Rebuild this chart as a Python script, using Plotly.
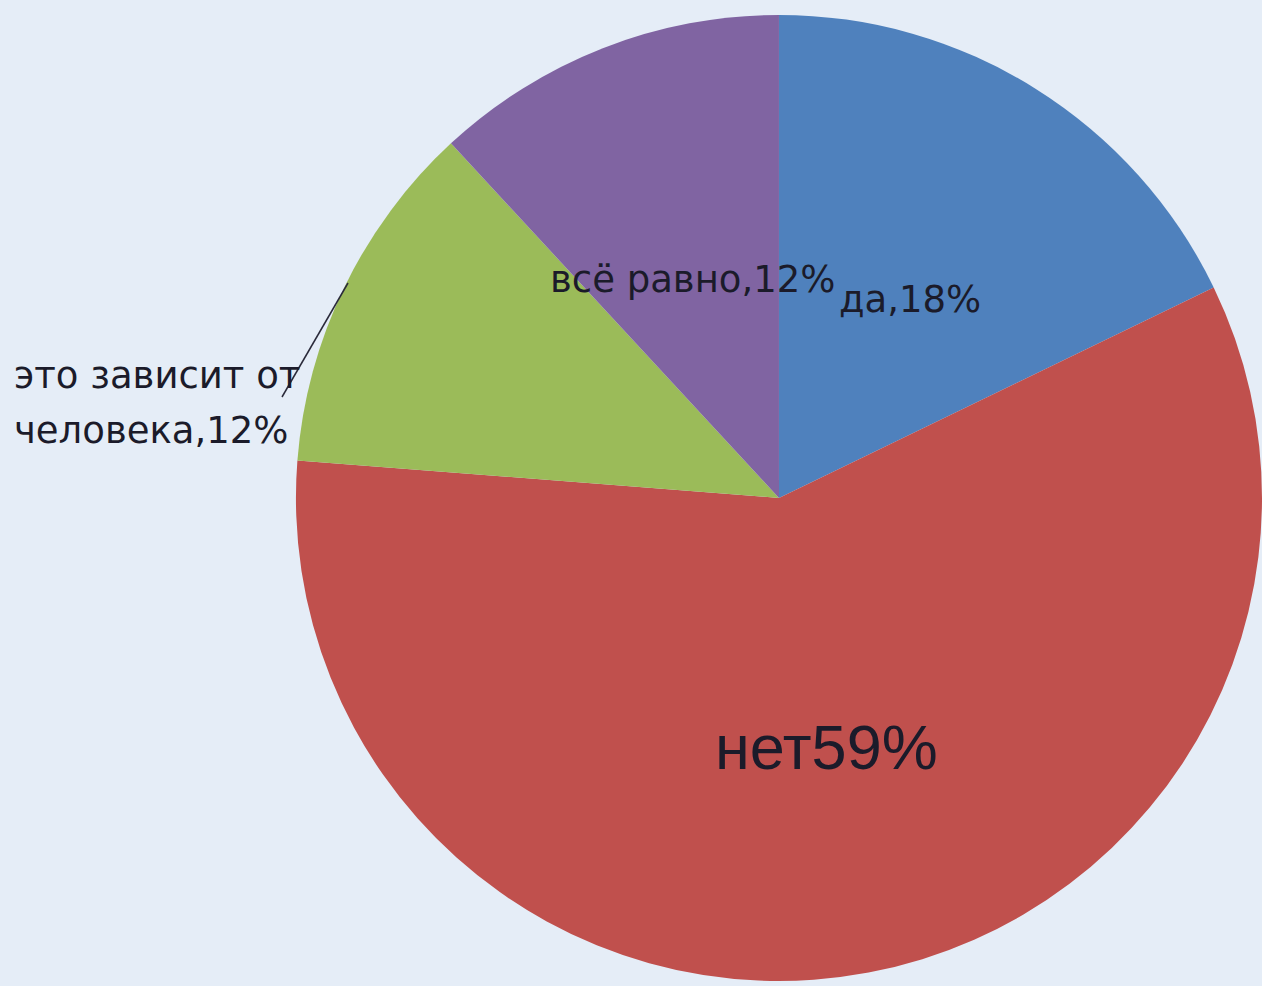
import plotly.graph_objects as go

labels = ["да", "нет", "это зависит от человека", "всё равно"]
values = [18, 59, 12, 12]
colors = ["#4f81bd", "#c0504d", "#9bbb59", "#8064a2"]
label_lines_green = ["это зависит от", "человека,12%"]
label_texts = ["да,18%", "нет59%", "всё равно,12%"]

W, H = 1262, 986

def px(x, y):
    return x / W, 1 - y / H

fig = go.Figure(go.Pie(
    labels=labels,
    values=values,
    sort=False,
    direction="clockwise",
    rotation=0,
    marker=dict(colors=colors, line=dict(width=0)),
    textinfo="none",
    hoverinfo="label+value",
    showlegend=False,
    domain=dict(x=[0.2345, 1.0], y=[0.0, 0.99]),
))

txt_color = "#1b1b2a"
ann = []
specs = [
    (label_texts[0], 910, 300, 37, "center", "DejaVu Sans"),
    (label_texts[2], 692, 279, 37, "center", "DejaVu Sans"),
    (label_texts[1], 826, 747, 63, "center", "Liberation Sans"),
    (label_lines_green[0], 12, 375, 37, "left", "DejaVu Sans"),
    (label_lines_green[1], 12, 430, 37, "left", "DejaVu Sans"),
]
for t, x, y, s, xa, fam in specs:
    xx, yy = px(x, y)
    ann.append(dict(text=t, x=xx, y=yy, xref="paper", yref="paper", showarrow=False,
                    xanchor=xa, yanchor="middle", font=dict(size=s, family=fam, color=txt_color)))

x0, y0 = px(282, 397)
x1, y1 = px(348, 283)
fig.update_layout(
    width=W, height=H,
    margin=dict(l=0, r=0, t=0, b=0),
    paper_bgcolor="#e5edf7",
    plot_bgcolor="#e5edf7",
    annotations=ann,
    shapes=[dict(type="line", xref="paper", yref="paper", x0=x0, y0=y0, x1=x1, y1=y1,
                 line=dict(color="#2a2a3a", width=1.5))],
)
fig.write_html("out.html", config={"displayModeBar": False},
               post_script="document.body.style.margin='0';document.body.style.background='#e5edf7';")
